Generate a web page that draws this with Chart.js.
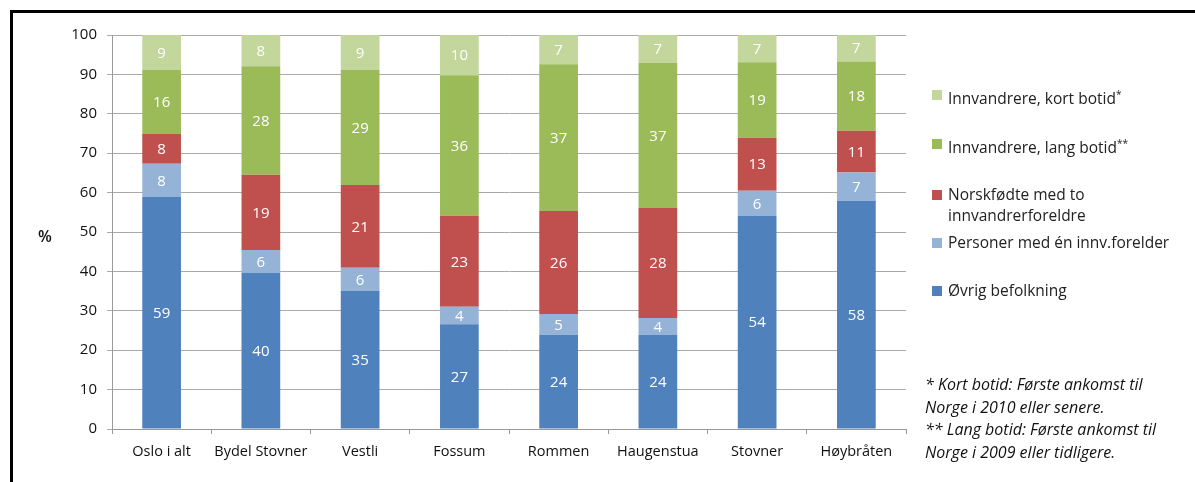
<!DOCTYPE html>
<html>
<head>
<meta charset="utf-8">
<script src="https://cdn.jsdelivr.net/npm/chart.js@4"></script>
<style>
  body { margin: 0; background: #fff; font-family: "Open Sans", sans-serif; }
  #wrap { position: relative; width: 1195px; height: 482px; overflow: hidden; }
  #frame { position: absolute; left: 10px; top: 10px; width: 1200px; height: 500px; border: 3px solid #000; box-sizing: border-box; }
  canvas { position: absolute; left: 0; top: 0; }
  .yt { position: absolute; left: 38px; top: 225px; font-size: 16px; font-weight: 600; color: #111; }
  .leg { position: absolute; left: 932px; font-size: 15.5px; color: #222; line-height: 21px; white-space: nowrap; }
  .leg span.sq { position: absolute; left: 0; top: 6px; width: 10px; height: 10px; }
  .leg div { margin-left: 16px; }
  .leg sup { font-size: 10px; }
  .note { position: absolute; left: 925px; top: 373px; font-size: 16px; font-style: italic; line-height: 22.5px; color: #111; white-space: nowrap; }
</style>
</head>
<body>
<div id="wrap">
  <canvas id="grafico" width="1195" height="482"></canvas>
  <div id="frame"></div>
  <div class="yt">%</div>
  <div id="legenda"></div>
  <div class="note">* Kort botid: Første ankomst til<br>Norge i 2010 eller senere.<br>** Lang botid: Første ankomst til<br>Norge i 2009 eller tidligere.</div>
</div>
<script>
const kategorier = ["Oslo i alt", "Bydel Stovner", "Vestli", "Fossum", "Rommen", "Haugenstua", "Stovner", "Høybråten"];

const ovrigBefolkning = [58.9, 39.6, 35.0, 26.6, 23.9, 23.9, 54.1, 57.9];
const enInnvForelder   = [8.4, 5.8, 5.9, 4.4, 5.3, 4.3, 6.4, 7.2];
const norskfodte       = [7.6, 19.1, 21.0, 23.1, 26.1, 27.9, 13.4, 10.6];
const langBotid        = [16.2, 27.6, 29.2, 35.7, 37.3, 36.8, 19.2, 17.6];
const kortBotid        = [8.9, 7.9, 8.9, 10.2, 7.4, 7.1, 6.9, 6.7];

const serier = [
    { label: "Øvrig befolkning", data: ovrigBefolkning, color: "#4F81BD" },
    { label: "Personer med én innv.forelder", data: enInnvForelder, color: "#95B3D7" },
    { label: "Norskfødte med to innvandrerforeldre", data: norskfodte, color: "#C0504D" },
    { label: "Innvandrere, lang botid**", data: langBotid, color: "#9BBB59" },
    { label: "Innvandrere, kort botid*", data: kortBotid, color: "#C3D69B" }
];

// legend (top to bottom = reverse of stack)
const legendTekst = [
    "Innvandrere, kort botid<sup>*</sup>",
    "Innvandrere, lang botid<sup>**</sup>",
    "Norskfødte med to<br>innvandrerforeldre",
    "Personer med én innv.forelder",
    "Øvrig befolkning"
];
const legendTop = [84, 133, 184, 232, 280];
const legenda = document.getElementById("legenda");
legendTekst.forEach((t, i) => {
    const s = serier[serier.length - 1 - i];
    const el = document.createElement("div");
    el.className = "leg";
    el.style.top = legendTop[i] + "px";
    el.innerHTML = '<span class="sq" style="background:' + s.color + '"></span><div>' + t + '</div>';
    legenda.appendChild(el);
});

const verdiEtiketter = {
    id: "verdiEtiketter",
    afterDatasetsDraw(chart) {
        const ctx = chart.ctx;
        ctx.save();
        ctx.fillStyle = "#fff";
        ctx.font = "15px 'Open Sans', sans-serif";
        ctx.textAlign = "center";
        ctx.textBaseline = "middle";
        chart.data.datasets.forEach((ds, i) => {
            chart.getDatasetMeta(i).data.forEach((bar, j) => {
                ctx.fillText(Math.round(ds.data[j]), bar.x, (bar.y + bar.base) / 2 + 1);
            });
        });
        ctx.restore();
    }
};

new Chart(document.getElementById("grafico"), {
    type: "bar",
    data: {
        labels: kategorier,
        datasets: serier.map(s => ({
            label: s.label,
            data: s.data,
            backgroundColor: s.color,
            borderWidth: 0,
            categoryPercentage: 1,
            barPercentage: 0.39
        }))
    },
    options: {
        responsive: false,
        animation: false,
        layout: { padding: { left: 0, top: 35, right: 289, bottom: 0 } },
        plugins: { legend: { display: false }, tooltip: { enabled: false } },
        scales: {
            x: {
                stacked: true,
                afterFit: s => { s.height = 53; },
                grid: { drawOnChartArea: false, drawTicks: true, tickLength: 5, color: "#999", offset: true },
                border: { color: "#999", width: 1 },
                ticks: { color: "#111", font: { family: "Open Sans", size: 14.5 }, padding: 9, maxRotation: 0, minRotation: 0, autoSkip: false }
            },
            y: {
                stacked: true,
                min: 0,
                max: 100,
                afterFit: s => { s.width = 112; },
                grid: { color: "#aaa", lineWidth: 1, tickLength: 5 },
                border: { color: "#999", width: 1 },
                ticks: { stepSize: 10, color: "#111", font: { family: "Open Sans", size: 15 }, padding: 10 }
            }
        }
    },
    plugins: [verdiEtiketter]
});
</script>
</body>
</html>
